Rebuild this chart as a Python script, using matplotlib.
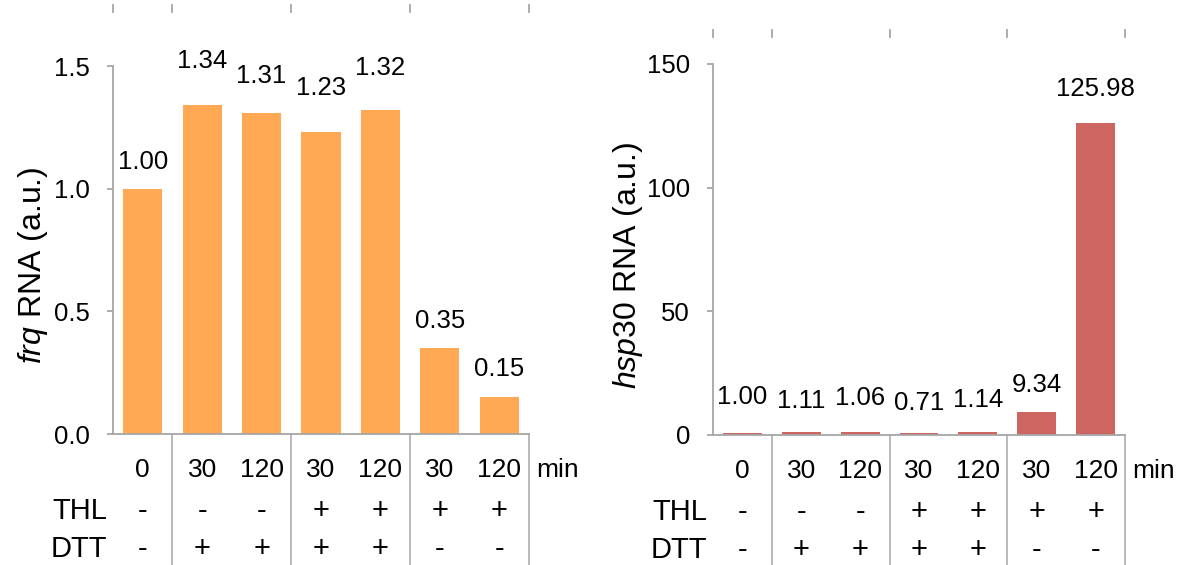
import matplotlib
matplotlib.use("Agg")
import matplotlib.pyplot as plt

plt.rcParams["font.family"] = ["Liberation Sans", "DejaVu Sans"]
plt.rcParams["mathtext.fontset"] = "custom"
plt.rcParams["mathtext.it"] = "Liberation Sans:italic"
plt.rcParams["mathtext.rm"] = "Liberation Sans"

# data
times = ["0", "30", "120", "30", "120", "30", "120"]
thl = ["-", "-", "-", "+", "+", "+", "+"]
dtt = ["-", "+", "+", "+", "+", "-", "-"]
frq = [1.00, 1.34, 1.31, 1.23, 1.32, 0.35, 0.15]
hsp30 = [1.00, 1.11, 1.06, 0.71, 1.14, 9.34, 125.98]

# label gaps above bars (px), hand placed in the original
frq_gap = [20, 37, 30, 37, 35, 20, 21]
hsp_gap = [29, 24, 27, 23, 25, 20, 27]

W, H = 1188, 565
fig = plt.figure(figsize=(W / 100, H / 100), dpi=100)

gray = "#A6A6A6"
fs = 18.5
fs_row = 21


def panel(rect, vals, gaps, color, ymax, yticks, ylab, ylab_x, top_tick_y):
    ax = fig.add_axes(rect)
    x = list(range(len(vals)))
    ax.bar(x, vals, width=0.66, color=color, edgecolor="none")
    ax.set_xlim(-0.5, len(vals) - 0.5)
    ax.set_ylim(0, ymax)
    ax.set_yticks(yticks)
    ax.set_xticks([])
    for s in ["top", "right"]:
        ax.spines[s].set_visible(False)
    for s in ["left", "bottom"]:
        ax.spines[s].set_color(gray)
        ax.spines[s].set_linewidth(1.3)
    ax.tick_params(axis="y", direction="out", length=4.5, width=1.3, color=gray,
                   labelsize=fs, pad=12)

    for xi, v, g in zip(x, vals, gaps):
        ax.annotate(f"{v:.2f}", (xi, v), xytext=(0, g * 0.72), textcoords="offset points",
                    ha="center", va="baseline", fontsize=fs)

    tr = ax.get_xaxis_transform()
    # group separators below the axis
    for b in [0.5, 2.5, 4.5, 6.5]:
        ax.plot([b, b], [0, -0.4], transform=tr, color=gray, lw=1.1, clip_on=False)
    # small marks above the plot
    for b in [-0.5, 0.5, 2.5, 4.5, 6.5]:
        ax.plot([b, b], [top_tick_y, top_tick_y + 0.018], transform=tr, color=gray,
                lw=1.3, clip_on=False)

    rows = [(times, 26, 19), (thl, 55.5, fs_row), (dtt, 83, fs_row)]
    for labels, dy, size in rows:
        for xi, t in zip(x, labels):
            ax.annotate(t, (xi, 0), xycoords=tr, xytext=(0, -dy), textcoords="offset points",
                        ha="center", va="center", fontsize=size)
    ax.annotate("min", (6.5, 0), xycoords=tr, xytext=(5, -26), textcoords="offset points",
                ha="left", va="center", fontsize=19)
    for name, dy in [("THL", 55.5), ("DTT", 83)]:
        ax.annotate(name, (-0.5, 0), xycoords=tr, xytext=(-4, -dy), textcoords="offset points",
                    ha="right", va="center", fontsize=fs_row)

    fig.text(ylab_x / W, 1 - 265 / H, ylab, rotation=90, ha="center", va="center",
             fontsize=23)
    return ax


ax1 = panel([113 / W, 1 - 434 / H, 416 / W, 368 / H], frq, frq_gap, "#FFA955",
            1.5, [0.0, 0.5, 1.0, 1.5], r"$\it{frq}$ RNA (a.u.)", 33, 1.147)
ax1.yaxis.set_major_formatter(matplotlib.ticker.FormatStrFormatter("%.1f"))

ax2 = panel([713 / W, 1 - 435 / H, 412 / W, 371 / H], hsp30, hsp_gap, "#CD6560",
            150, [0, 50, 100, 150], r"$\it{hsp30}$ RNA (a.u.)", 628, 1.073)

fig.savefig("out.png", dpi=100)
